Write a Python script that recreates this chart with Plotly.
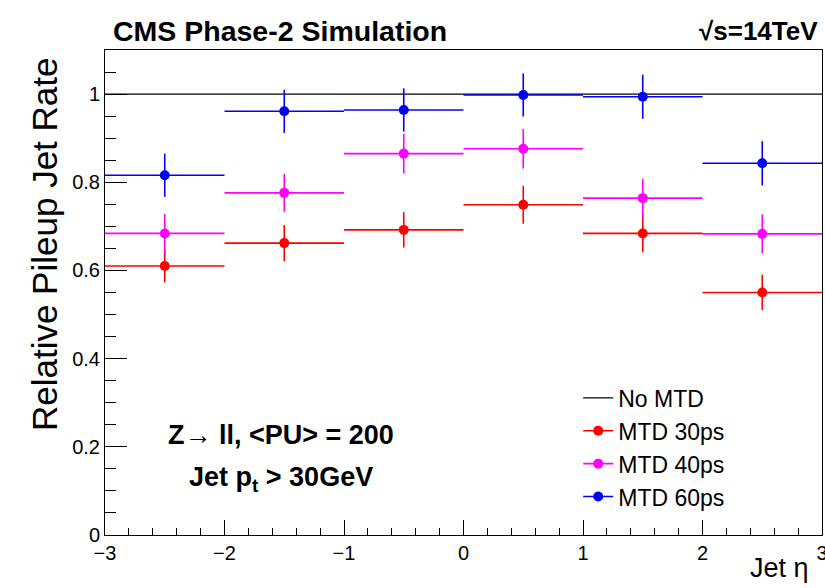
import plotly.graph_objects as go

# --- data ---
bin_centers = [-2.5, -1.5, -0.5, 0.5, 1.5, 2.5]
bin_halfwidth = [0.5, 0.5, 0.5, 0.5, 0.5, 0.5]
no_mtd_x = [-3, 3]
no_mtd_y = [1.0, 1.0]
mtd30 = [0.610, 0.662, 0.692, 0.749, 0.684, 0.550]
mtd30_err = [0.037, 0.041, 0.040, 0.043, 0.043, 0.040]
mtd40 = [0.684, 0.776, 0.865, 0.876, 0.764, 0.683]
mtd40_err = [0.044, 0.043, 0.045, 0.045, 0.044, 0.044]
mtd60 = [0.816, 0.961, 0.964, 0.998, 0.994, 0.843]
mtd60_err = [0.049, 0.049, 0.049, 0.049, 0.050, 0.050]

series = [
    ("MTD 30ps", mtd30, mtd30_err, "#FF0000"),
    ("MTD 40ps", mtd40, mtd40_err, "#FF00FF"),
    ("MTD 60ps", mtd60, mtd60_err, "#0000FF"),
]

FONT = "Liberation Sans, Arial, Helvetica, sans-serif"

fig = go.Figure()

fig.add_trace(go.Scatter(
    x=no_mtd_x, y=no_mtd_y, mode="lines", name="No MTD",
    line=dict(color="black", width=1.2), showlegend=True))

for i, (name, vals, errs, col) in enumerate(series):
    fig.add_trace(go.Scatter(
        x=bin_centers, y=vals, mode="markers", name=name, showlegend=False,
        marker=dict(color=col, size=10, symbol="circle"),
        error_x=dict(type="data", array=bin_halfwidth, color=col, thickness=1.6, width=0),
        error_y=dict(type="data", array=errs, color=col, thickness=1.6, width=0),
    ))
    # legend entry
    fig.add_trace(go.Scatter(
        x=[None], y=[None], mode="lines+markers", name=name, showlegend=True,
        marker=dict(color=col, size=10, symbol="circle"),
        line=dict(color=col, width=1.6),
    ))

axis_common = dict(
    showline=True, linecolor="black", linewidth=1, mirror=True,
    ticks="inside", tickcolor="black", tickwidth=1,
    showgrid=False, zeroline=False,
    tickfont=dict(family=FONT, size=20, color="black"),
    ticklabeloverflow="allow", automargin=False,
)

fig.update_xaxes(range=[-3, 3], dtick=1, tick0=-3, ticklen=15,
                 minor=dict(dtick=0.2, ticklen=7, ticks="inside", tickcolor="black"),
                 **axis_common)
fig.update_yaxes(range=[0, 1.1], dtick=0.2, tick0=0, ticklen=22,
                 tickformat="~g",
                 minor=dict(dtick=0.05, ticklen=11, ticks="inside", tickcolor="black"),
                 **axis_common)

annotations = [
    dict(text="<b>CMS Phase-2 Simulation</b>", xref="paper", yref="paper",
         x=0.008, y=1.04, xanchor="left", yanchor="middle", showarrow=False,
         font=dict(family=FONT, size=28.5, color="black")),
    dict(text="<b>√s=14TeV</b>", xref="paper", yref="paper",
         x=0.997, y=1.04, xanchor="right", yanchor="middle", showarrow=False,
         font=dict(family=FONT, size=26, color="black")),
    dict(text="<b>Z→ ll, &lt;PU&gt; = 200</b>", xref="paper", yref="paper",
         x=0.246, y=0.207, xanchor="center", yanchor="middle", showarrow=False,
         font=dict(family=FONT, size=27, color="black")),
    dict(text="<b>Jet p<sub>t</sub> &gt; 30GeV</b>", xref="paper", yref="paper",
         x=0.246, y=0.115, xanchor="center", yanchor="middle", showarrow=False,
         font=dict(family=FONT, size=27, color="black")),
    dict(text="Relative Pileup Jet Rate", xref="paper", yref="paper",
         x=-0.085, y=0.6, xanchor="center", yanchor="middle", showarrow=False,
         textangle=-90, font=dict(family=FONT, size=35, color="black")),
    dict(text="Jet η", xref="paper", yref="paper",
         x=0.985, y=-0.104, xanchor="right", yanchor="bottom", showarrow=False,
         font=dict(family=FONT, size=27, color="black")),
]

fig.update_layout(
    width=825, height=588,
    margin=dict(l=105, r=3, t=50, b=53),
    paper_bgcolor="white", plot_bgcolor="white",
    annotations=annotations,
    legend=dict(x=0.66, y=0.327, xanchor="left", yanchor="top",
                bgcolor="rgba(0,0,0,0)", tracegroupgap=0,
                font=dict(family=FONT, size=23, color="black")),
    font=dict(family=FONT),
)

fig.write_html("out.html")
